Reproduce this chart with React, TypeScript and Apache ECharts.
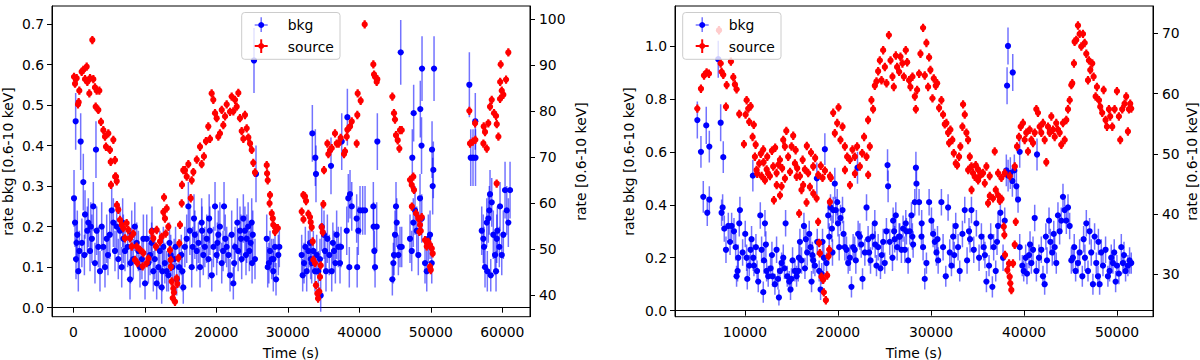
import React, { useEffect, useRef } from "react";
import * as echarts from "echarts";

// ---------- tick labels ----------
const LEFT_X_TICKS = [0, 10000, 20000, 30000, 40000, 50000, 60000];
const LEFT_BKG_TICKS = [0, 0.1, 0.2, 0.3, 0.4, 0.5, 0.6, 0.7];
const LEFT_SRC_TICKS = [40, 50, 60, 70, 80, 90, 100];
const RIGHT_X_TICKS = [10000, 20000, 30000, 40000, 50000];
const RIGHT_BKG_TICKS = [0, 0.2, 0.4, 0.6, 0.8, 1.0];
const RIGHT_SRC_TICKS = [30, 40, 50, 60, 70];

const LEGEND_LABELS = ["bkg", "source"];
const X_LABEL = "Time (s)";
const BKG_LABEL = "rate bkg [0.6-10 keV]";
const SRC_LABEL = "rate [0.6-10 keV]";

// half bin widths (s) and source rate error
const BKG_XERR = 150;
const SRC_XERR_LEFT = 330;
const SRC_XERR_RIGHT = 280;
const SRC_ERR_LEFT = 0.9;
const SRC_ERR_RIGHT = 0.7;

// ---------- left observation: background [time, rate, err] ----------
const LEFT_BKG: number[][] = [
  [100,0.27,0.07],[240,0.21,0.06],[330,0.46,0.07],[380,0.12,0.05],[560,0.18,0.06],[700,0.09,0.05],[840,0.14,0.05],
  [1030,0.41,0.07],[1200,0.16,0.06],[1400,0.31,0.07],[1640,0.23,0.06],[1960,0.19,0.06],[2100,0.21,0.06],[2340,0.14,0.05],
  [2600,0.17,0.06],[2800,0.25,0.06],[3030,0.11,0.05],[3170,0.39,0.07],[3270,0.19,0.06],[3730,0.09,0.05],[3970,0.20,0.06],
  [4200,0.15,0.05],[4430,0.10,0.05],[4670,0.17,0.06],[5100,0.18,0.06],[5370,0.24,0.06],[5600,0.21,0.06],[5830,0.14,0.05],
  [6070,0.20,0.06],[6290,0.12,0.05],[6530,0.19,0.06],[6770,0.10,0.05],[7000,0.17,0.06],[7230,0.14,0.05],[7600,0.15,0.05],
  [7930,0.07,0.05],[8170,0.18,0.06],[8390,0.12,0.05],[8600,0.20,0.06],[8870,0.16,0.05],[9100,0.14,0.05],[9330,0.10,0.05],
  [9600,0.12,0.05],[10030,0.06,0.04],[10270,0.17,0.06],[10500,0.11,0.05],[10730,0.13,0.05],[10950,0.16,0.05],[11190,0.09,0.05],
  [11400,0.12,0.05],[11660,0.06,0.04],[11900,0.10,0.05],[12100,0.14,0.05],[12360,0.05,0.04],[12590,0.15,0.05],[12800,0.11,0.05],
  [13060,0.09,0.05],[13300,0.08,0.04],[13620,0.13,0.05],[13850,0.10,0.05],[14100,0.12,0.05],[14460,0.07,0.04],[14800,0.10,0.05],
  [15100,0.13,0.05],[15380,0.05,0.04],[15600,0.15,0.05],[15860,0.17,0.06],[16090,0.25,0.06],[16300,0.19,0.06],[16560,0.10,0.05],
  [16880,0.22,0.06],[17000,0.18,0.06],[17260,0.14,0.05],[17500,0.16,0.05],[17720,0.10,0.05],[17950,0.21,0.06],[18180,0.13,0.05],
  [18400,0.15,0.05],[18660,0.17,0.06],[18900,0.12,0.05],[19100,0.19,0.06],[19360,0.08,0.04],[19600,0.15,0.05],[19820,0.25,0.06],
  [20050,0.13,0.05],[20280,0.18,0.06],[20500,0.20,0.06],[20760,0.11,0.05],[21080,0.25,0.06],[21250,0.17,0.06],[21450,0.15,0.05],
  [21700,0.13,0.05],[21920,0.08,0.04],[22150,0.18,0.06],[22380,0.06,0.04],[22620,0.15,0.05],[22940,0.21,0.06],[23050,0.14,0.05],
  [23310,0.19,0.06],[23550,0.12,0.05],[23780,0.22,0.06],[24000,0.19,0.06],[24250,0.17,0.06],[24450,0.20,0.06],[24620,0.14,0.05],
  [24800,0.16,0.05],[24950,0.21,0.06],[25100,0.18,0.06],[25270,0.61,0.08],[25410,0.12,0.05],[25550,0.33,0.07],
  [450,0.16,0.05],[1550,0.13,0.05],[2450,0.20,0.06],[3500,0.15,0.05],[4850,0.13,0.05],[6900,0.21,0.06],[8000,0.11,0.05],
  [9800,0.17,0.06],[11000,0.19,0.06],[12450,0.09,0.05],[13450,0.16,0.05],[14300,0.15,0.05],[15250,0.09,0.05],[16700,0.15,0.05],
  [18000,0.19,0.06],[19000,0.22,0.06],[20150,0.16,0.05],[20950,0.14,0.05],[22500,0.11,0.05],[23450,0.17,0.06],[24150,0.13,0.05],
  [25000,0.11,0.05],
  [27050,0.17,0.06],[27190,0.10,0.05],[27350,0.11,0.05],[27510,0.14,0.05],[27750,0.12,0.05],[27970,0.09,0.05],[28000,0.12,0.05],
  [28210,0.15,0.05],[28350,0.07,0.04],[28670,0.13,0.05],[28810,0.15,0.05],
  [31940,0.13,0.05],[32080,0.08,0.04],[32270,0.11,0.05],[32450,0.15,0.05],[32640,0.09,0.05],[32870,0.14,0.05],[33100,0.16,0.06],
  [33200,0.12,0.05],[33340,0.11,0.05],[33430,0.43,0.07],[33570,0.14,0.05],[33800,0.09,0.05],[33850,0.37,0.07],[33940,0.33,0.07],
  [34040,0.13,0.05],[34270,0.09,0.05],[34500,0.12,0.05],[34600,0.03,0.04],[34740,0.20,0.06],[35060,0.18,0.06],[35200,0.14,0.05],
  [35340,0.09,0.05],[35530,0.17,0.06],[35800,0.13,0.05],[36040,0.35,0.07],[36140,0.09,0.05],[36300,0.16,0.05],[36460,0.14,0.05],
  [36650,0.11,0.05],[36830,0.18,0.06],[37060,0.15,0.05],[37300,0.11,0.05],[37440,0.15,0.05],[37540,0.41,0.07],
  [38240,0.19,0.06],[38330,0.47,0.07],[38460,0.27,0.06],[38600,0.10,0.05],[38700,0.28,0.06],[38940,0.25,0.06],[39630,0.22,0.06],
  [39700,0.10,0.05],[39860,0.19,0.06],[40100,0.24,0.06],[40470,0.24,0.06],[40800,0.24,0.06],[41960,0.25,0.06],[42000,0.20,0.06],
  [42100,0.14,0.05],[42200,0.10,0.05],[42430,0.20,0.06],[42520,0.41,0.07],
  [44620,0.07,0.04],[44760,0.11,0.05],[44850,0.13,0.05],[44990,0.18,0.06],[45130,0.25,0.06],[45230,0.21,0.06],[45460,0.13,0.05],
  [45690,0.15,0.05],[45790,0.63,0.08],[45930,0.15,0.05],[47090,0.17,0.06],[47330,0.14,0.05],[47410,0.37,0.07],[47550,0.21,0.06],
  [47600,0.48,0.07],[47790,0.24,0.06],[48030,0.19,0.06],[48250,0.13,0.05],[48490,0.27,0.06],[48530,0.49,0.07],[48700,0.40,0.07],
  [48730,0.22,0.06],[48770,0.59,0.08],[49190,0.11,0.05],[49430,0.09,0.05],[49650,0.17,0.06],[49890,0.18,0.06],[50130,0.11,0.05],
  [50170,0.39,0.07],[50260,0.30,0.07],[50350,0.34,0.07],[50450,0.59,0.08],
  [55390,0.55,0.08],[55580,0.37,0.07],[55900,0.37,0.07],[56220,0.46,0.07],[56250,0.37,0.07],[57120,0.19,0.06],[57340,0.17,0.06],
  [57440,0.15,0.05],[57580,0.10,0.05],[57820,0.21,0.06],[57900,0.09,0.05],[58040,0.22,0.06],[58180,0.24,0.06],[58280,0.28,0.06],
  [58380,0.08,0.04],[58520,0.26,0.06],[58740,0.18,0.06],[58980,0.13,0.05],[59120,0.09,0.05],[59220,0.17,0.06],[59300,0.19,0.06],
  [59580,0.15,0.05],[59680,0.25,0.06],[59920,0.13,0.05],[60140,0.18,0.06],[60380,0.29,0.07],[60620,0.24,0.06],[60840,0.21,0.06],
  [61080,0.29,0.07],
];

// ---------- left observation: source [time, rate] ----------
const LEFT_SRC: number[][] = [
  [100,87.5],[240,86.0],[470,87.2],[660,81.5],[750,82.0],[840,84.5],[1170,88.6],[1400,89.0],[1640,87.0],[1870,89.7],
  [1960,86.4],[2240,83.9],[2340,87.2],[2660,95.5],[2800,87.0],[3030,85.2],[3130,81.0],[3270,84.5],[3500,80.3],[3640,84.5],
  [3870,77.7],[4200,75.9],[4430,74.5],[4570,72.3],[4900,75.2],[5130,71.6],[5230,69.0],[5270,64.0],[5600,73.8],[5830,69.4],
  [5850,65.8],[5970,65.8],[6070,64.8],[6100,59.6],[6290,58.6],[6530,56.4],[6770,55.3],[7000,54.6],[7230,52.4],[7460,55.7],
  [7700,54.2],[7930,52.4],[8170,50.6],[8390,53.4],[8630,47.7],[8870,50.6],[8960,47.0],[9330,49.9],[9700,46.3],[9790,49.2],
  [10270,47.0],[10500,48.0],[10960,53.8],[11190,52.4],[11560,50.6],[11660,54.2],[12130,51.7],[12360,52.7],[12590,58.1],
  [12690,61.3],[12820,56.7],[12920,53.4],[13060,58.9],[13290,54.9],[13520,49.8],[13620,47.7],[13650,46.2],[13760,43.0],
  [13900,39.4],[13990,41.5],[14080,40.6],[14220,38.6],[14460,43.7],[14550,42.5],[14690,48.1],[14830,51.3],[14920,55.3],
  [15160,60.0],[15200,64.0],[15380,67.2],[15620,67.2],[15860,65.8],[16090,68.5],[16420,61.1],[16560,65.0],[16790,66.8],
  [17260,69.5],[17720,72.3],[17950,68.5],[18270,70.2],[18550,73.5],[18880,76.7],[19120,74.0],[19350,83.9],[19580,82.5],
  [19820,79.6],[20050,78.5],[20280,74.5],[20510,75.2],[20760,80.3],[20980,77.0],[21220,78.9],[21450,81.5],[21920,79.9],
  [22150,83.2],[22380,80.0],[22620,82.5],[22850,81.0],[23080,84.0],[23310,78.5],[23550,75.7],[23780,74.0],[24010,79.2],
  [24250,76.3],[24480,74.3],[24720,73.0],[24950,71.6],[25170,68.8],[25410,66.7],
  [27050,68.3],[27100,66.5],[27190,65.0],[27450,60.0],[27510,61.8],[27750,57.8],[27900,56.7],[27970,55.3],[28210,53.8],
  [28350,54.6],[28600,54.6],
  [31940,58.2],[32170,61.8],[32190,56.5],[32400,61.5],[32550,60.5],[32870,57.7],[33100,57.0],[33200,55.9],[33340,54.8],
  [33480,51.7],[33570,47.7],[33800,47.0],[33940,42.2],[34130,40.4],[34230,39.3],[34410,40.8],[34500,44.0],[34600,46.5],
  [34740,54.8],[34880,53.7],[34970,59.8],[35060,67.2],[35530,73.0],[35670,70.7],[35900,71.5],[36140,72.0],[36600,75.2],
  [36840,73.0],[37110,73.0],[37390,74.2],[37860,70.7],[38000,71.3],[38240,74.5],[38330,76.0],[38700,76.7],[38940,77.8],
  [39630,73.0],[39720,79.2],[39770,83.9],[40190,82.3],[40750,98.9],[41960,90.2],[42060,88.0],[42200,87.5],[42430,86.4],
  [42520,87.0],
  [44620,83.2],[44850,79.6],[44990,78.2],[45130,74.8],[45370,73.7],[45600,71.9],[45690,75.9],[45930,75.9],
  [47090,65.1],[47330,64.0],[47350,59.3],[47550,65.8],[47650,62.9],[47930,57.8],[48250,56.7],[48390,53.8],[48490,55.3],
  [48590,54.0],[48730,57.0],[49190,52.0],[49430,50.6],[49650,51.6],[49890,46.2],[49900,50.9],[49990,45.5],[50130,50.2],
  [50260,49.1],
  [55390,80.1],[55480,73.0],[55860,73.4],[56190,77.4],[56230,73.8],[57350,73.0],[57400,76.7],[57580,75.5],[57820,71.9],
  [58040,77.4],[58280,81.0],[58520,82.5],[58840,79.6],[59120,79.0],[59210,64.3],[59220,77.2],[59450,74.5],[59680,82.7],
  [59700,86.4],[59770,90.2],[59920,84.5],[60140,83.6],[60520,86.9],[60840,92.8],
];

// ---------- right observation: background [time, rate, err] ----------
const RIGHT_BKG: number[][] = [
  [4880,0.72,0.07],[5270,0.60,0.06],[5520,0.43,0.06],[5840,0.70,0.07],[5950,0.37,0.05],[6170,0.62,0.06],[6170,0.42,0.05],
  [7130,0.95,0.07],[7390,0.71,0.07],[7490,0.37,0.05],[7600,0.39,0.05],[7670,0.58,0.06],[7780,0.31,0.05],[7960,0.23,0.05],
  [8210,0.32,0.05],[8570,0.32,0.05],[8820,0.30,0.05],[9100,0.13,0.04],[9210,0.15,0.04],[9280,0.20,0.05],[9390,0.33,0.05],
  [9460,0.38,0.05],[9750,0.22,0.05],[10030,0.29,0.05],[10180,0.20,0.05],[10250,0.12,0.04],[10460,0.17,0.04],[10710,0.27,0.05],
  [10850,0.51,0.06],[10890,0.20,0.05],[10970,0.17,0.04],[11180,0.24,0.05],[11430,0.11,0.04],[11650,0.36,0.05],[11790,0.23,0.05],
  [11970,0.07,0.04],[12150,0.33,0.05],[12250,0.25,0.05],[12330,0.15,0.04],[12500,0.13,0.04],[12760,0.16,0.04],[12970,0.13,0.04],
  [13220,0.10,0.04],[13400,0.23,0.05],[13650,0.05,0.03],[13760,0.15,0.04],[13940,0.18,0.04],[14120,0.20,0.05],[14370,0.33,0.05],
  [14550,0.13,0.04],[14760,0.11,0.04],[14900,0.08,0.04],[15120,0.19,0.05],[15370,0.15,0.04],[15550,0.13,0.04],[15730,0.15,0.04],
  [15910,0.26,0.05],[16080,0.19,0.05],[16340,0.32,0.05],[16550,0.27,0.05],[16690,0.22,0.05],[16910,0.29,0.05],[17050,0.24,0.05],
  [17160,0.11,0.04],[17340,0.19,0.05],[17520,0.17,0.04],[17730,0.50,0.06],[17770,0.26,0.05],[17980,0.15,0.04],[18130,0.08,0.04],
  [18340,0.26,0.05],[18480,0.20,0.05],[18590,0.61,0.06],[18770,0.18,0.04],[18950,0.36,0.05],[19060,0.28,0.05],[19200,0.39,0.05],
  [19410,0.22,0.05],[19490,0.38,0.05],[19660,0.48,0.06],[19770,0.38,0.05],[19920,0.41,0.05],[20130,0.24,0.05],[20270,0.35,0.05],
  [20490,0.38,0.05],[20740,0.24,0.05],[20920,0.23,0.05],[21100,0.18,0.04],[21280,0.20,0.05],[21450,0.09,0.04],[21630,0.24,0.05],
  [21920,0.19,0.05],[22100,0.54,0.06],[22170,0.29,0.05],[22350,0.28,0.05],[22640,0.12,0.04],[22890,0.22,0.05],[23070,0.39,0.05],
  [23240,0.27,0.05],[23500,0.19,0.05],[23710,0.28,0.05],[23960,0.33,0.05],[24140,0.17,0.04],[24320,0.24,0.05],[24570,0.16,0.04],
  [24860,0.26,0.05],[25030,0.18,0.04],[25210,0.30,0.05],[25330,0.55,0.06],[25390,0.47,0.06],[25570,0.26,0.05],[25860,0.20,0.05],
  [25930,0.34,0.05],[26040,0.30,0.05],[26220,0.36,0.05],[26360,0.24,0.05],[26570,0.28,0.05],[26650,0.28,0.05],[26820,0.23,0.05],
  [27000,0.31,0.05],[27190,0.23,0.05],[27290,0.33,0.05],[27360,0.30,0.05],[27540,0.19,0.05],[27720,0.30,0.05],[27900,0.36,0.05],
  [28000,0.28,0.05],[28080,0.25,0.05],[28260,0.41,0.05],[28380,0.54,0.06],[28440,0.48,0.06],
  [28720,0.41,0.05],[28980,0.28,0.05],[29150,0.24,0.05],[29330,0.12,0.04],[29510,0.18,0.04],[29800,0.41,0.05],[30050,0.34,0.05],
  [30230,0.29,0.05],[30410,0.26,0.05],[30590,0.22,0.05],[30770,0.19,0.05],[31120,0.41,0.05],[31300,0.24,0.05],[31590,0.13,0.04],
  [31840,0.39,0.05],[32020,0.22,0.05],[32200,0.17,0.04],[32380,0.28,0.05],[32660,0.32,0.05],[32910,0.24,0.05],[33090,0.15,0.04],
  [33380,0.29,0.05],[33630,0.38,0.05],[33880,0.19,0.05],[34090,0.30,0.05],[34350,0.38,0.05],[34600,0.23,0.05],[34880,0.33,0.05],
  [35170,0.20,0.05],[35420,0.28,0.05],[35670,0.24,0.05],[35960,0.11,0.04],[36240,0.17,0.04],[36420,0.28,0.05],[36600,0.09,0.04],
  [36740,0.24,0.05],[36960,0.15,0.04],[37210,0.32,0.05],[37460,0.37,0.05],[37750,0.20,0.05],[37930,0.34,0.05],[38100,0.53,0.06],
  [38180,0.85,0.07],[38280,1.00,0.07],[38290,0.51,0.06],[38530,0.52,0.06],[38750,0.49,0.06],[38790,0.90,0.07],[38960,0.53,0.06],
  [39180,0.47,0.06],[39360,0.42,0.05],[39540,0.60,0.06],[39540,0.24,0.05],[39820,0.17,0.04],[39970,0.15,0.04],[40180,0.20,0.05],
  [40320,0.14,0.04],[40540,0.21,0.05],[40790,0.18,0.04],[40970,0.23,0.05],[41150,0.35,0.05],[41330,0.15,0.04],[41400,0.59,0.06],
  [41610,0.20,0.05],[41860,0.23,0.05],[42040,0.13,0.04],[42220,0.10,0.04],[42470,0.19,0.05],[42690,0.34,0.05],[42830,0.26,0.05],
  [43040,0.22,0.05],[43300,0.24,0.05],[43470,0.18,0.04],[43650,0.36,0.05],[43830,0.30,0.05],[44010,0.34,0.05],[44190,0.43,0.05],
  [44370,0.38,0.05],[44550,0.34,0.05],[44730,0.39,0.05],[44910,0.32,0.05],[45090,0.19,0.05],[45260,0.20,0.05],[45550,0.15,0.04],
  [45800,0.18,0.04],[45980,0.22,0.05],[46270,0.13,0.04],[46410,0.27,0.05],[46700,0.33,0.05],[46880,0.15,0.04],[47050,0.30,0.05],
  [47230,0.22,0.05],[47410,0.10,0.04],[47590,0.28,0.05],[47770,0.18,0.04],[47950,0.13,0.04],[48130,0.10,0.04],[48310,0.22,0.05],
  [48490,0.17,0.04],[48770,0.23,0.05],[49020,0.13,0.04],[49200,0.15,0.04],[49380,0.20,0.05],[49560,0.18,0.04],[49850,0.11,0.04],
  [49990,0.17,0.04],[50200,0.14,0.04],[50460,0.24,0.05],[50630,0.18,0.04],[50920,0.15,0.04],[51170,0.17,0.04],[51350,0.19,0.05],
  [51530,0.18,0.04],
  [8400,0.26,0.05],[9000,0.24,0.05],[10600,0.23,0.05],[11300,0.15,0.04],[12050,0.19,0.05],[12900,0.21,0.05],[13550,0.12,0.04],
  [14250,0.16,0.04],[15000,0.12,0.04],[15800,0.20,0.05],[16450,0.16,0.04],[17250,0.21,0.05],[18250,0.14,0.04],[19350,0.31,0.05],
  [20000,0.33,0.05],[20600,0.29,0.05],[21800,0.23,0.05],[22500,0.25,0.05],[23350,0.22,0.05],[24000,0.25,0.05],[24700,0.21,0.05],
  [26100,0.27,0.05],[29000,0.33,0.05],[30700,0.27,0.05],[32500,0.21,0.05],[34200,0.27,0.05],[35800,0.21,0.05],[37100,0.26,0.05],
  [40650,0.25,0.05],[42350,0.28,0.05],[43200,0.29,0.05],[45400,0.24,0.05],[46550,0.20,0.05],[48000,0.26,0.05],[49700,0.22,0.05],
  [50750,0.21,0.05],
];

// ---------- right observation: source [time, rate] ----------
const RIGHT_SRC: number[][] = [
  [4880,57.5],[5270,60.8],[5600,63.0],[5880,63.5],[6130,63.3],[7210,70.5],[7390,65.0],[7490,63.6],[7670,63.1],[7960,57.8],
  [8030,61.4],[8490,65.3],[8750,62.7],[8920,61.5],[9100,60.7],[9390,56.6],[9890,51.6],[10070,56.5],[10180,58.9],[10360,57.5],
  [10460,55.3],[10610,57.9],[10820,52.8],[11070,49.5],[11250,47.3],[11320,46.7],[11540,48.4],[11790,46.3],[11970,50.7],
  [12150,45.6],[12330,47.4],[12500,46.7],[12680,46.3],[13040,47.9],[13110,42.3],[13400,46.8],[13410,44.8],[13760,49.0],
  [13770,43.1],[13940,44.6],[14120,52.3],[14290,51.2],[14300,45.9],[14650,49.5],[15010,51.2],[15190,53.0],[15370,48.4],
  [15550,46.2],[15620,47.6],[15830,40.1],[15910,46.3],[16080,44.0],[16260,44.8],[16440,47.4],[16620,41.9],[16800,46.8],
  [16980,44.5],[17340,47.9],[17350,43.4],[17700,42.6],[17870,38.7],[17880,46.5],[17980,35.2],[18050,33.5],[18230,29.6],
  [18340,46.0],[18410,29.1],[18480,27.0],[18700,25.7],[18840,29.8],[18980,33.0],[19060,34.1],[19130,42.0],[19135,46.3],
  [19230,46.0],[19490,56.8],[19660,53.4],[19920,55.1],[20060,57.7],[20270,52.3],[20490,54.5],[20740,51.2],[20750,47.3],
  [20990,49.5],[21280,49.0],[21290,44.8],[21560,50.7],[21810,49.5],[21820,46.7],[22060,51.2],[22350,47.9],[22600,50.1],
  [22810,52.8],[23070,49.5],[23240,55.6],[23250,46.5],[23420,51.2],[23600,58.9],[23780,57.4],[23960,61.3],[24140,62.0],
  [24320,63.7],
  [11150,51.5],[11700,50.0],[12400,49.5],[12900,50.5],[13600,48.2],[14450,53.8],[14850,47.0],[15450,50.6],[16200,49.0],
  [16650,51.3],[17100,50.2],[17550,49.3],[18150,48.0],[18600,47.2],[10950,54.8],[12000,48.6],[13250,51.0],[14000,47.6],
  [24500,65.5],[24680,62.2],[24860,67.2],[25040,64.4],[25220,61.7],[25470,69.7],[25650,65.5],[25860,62.8],[26000,61.1],
  [26220,66.3],[26360,64.4],[26580,63.6],[26720,66.1],[26930,65.0],[27080,62.8],[27290,67.2],[27440,65.2],[27650,62.2],
  [27790,61.1],[28010,62.8],[28260,59.5],[28370,57.4],[28510,60.6],[28720,63.3],[28870,66.6],[29150,70.9],[29330,63.0],
  [29510,68.4],[29690,61.1],[29800,66.0],[29940,63.9],[30160,59.2],[30300,62.5],[30510,61.3],[30660,61.7],[30870,57.6],
  [31120,58.9],[31300,56.5],[31480,54.9],[31660,55.1],[31840,53.5],[31950,51.8],[32090,54.0],[32300,52.3],[32450,50.1],
  [32660,48.4],[32810,48.1],[33020,49.5],[33160,51.2],[33380,54.5],[33450,58.2],[33630,56.5],[33810,53.5],[33990,52.3],
  [34000,47.3],[34170,49.5],[34350,47.9],[34360,44.0],[34520,46.8],[34700,46.2],[34810,48.1],[35060,47.4],[35070,45.6],
  [35240,46.3],[35420,46.7],[35600,46.8],[35780,45.1],[35960,47.9],[36140,41.8],[36310,46.3],[36320,43.0],[36670,42.6],
  [36850,50.4],[36960,44.0],[37210,46.8],[37220,43.1],[37390,42.2],[37570,46.0],[37580,42.5],[37820,37.9],[37890,36.5],
  [37925,46.8],[37960,33.2],[38210,30.7],[38390,31.8],[38460,29.6],[38470,46.3],[38530,28.5],[38640,27.4],[38820,31.8],
  [39000,34.9],[39010,47.9],[39110,38.7],[39250,51.2],[39460,52.8],[39640,54.5],[39890,55.1],[40070,52.3],[40250,53.5],
  [40430,50.4],[40610,54.0],[40790,52.3],[40970,51.8],[41150,53.5],[41330,57.4],[41500,56.8],[41680,54.5],[41860,53.5],
  [42040,55.1],[42220,52.3],[42400,48.6],[42580,54.5],[42760,53.5],[42940,56.2],[43120,54.0],[43300,52.8],[43470,55.1],
  [43650,54.0],[43830,53.5],[44010,51.5],[44190,55.1],[44370,52.3],[44550,55.6],[44730,57.4],[44910,58.9],[45090,61.4],
  [45190,61.7],[45370,65.0],[45440,68.6],[45620,68.9],[45800,71.3],[45980,69.9],[46160,67.8],[46340,69.9],[46520,68.4],
  [46700,66.6],[46880,62.2],[46980,65.5],[47130,63.9],[47340,65.0],[47480,62.8],[47700,59.5],[47840,61.1],[48060,58.9],
  [48200,57.8],[48410,56.8],[48560,60.6],[48770,55.6],[48920,54.5],[49130,57.4],[49270,56.2],[49490,54.5],[49740,57.4],
  [49990,60.4],[50200,56.2],[50350,52.3],[50560,57.4],[50810,58.3],[50990,59.5],[51170,53.7],[51280,57.4],[51420,58.3],
  [51530,57.5],
];

// ---------- styling ----------
const FONT_FAMILY = "DejaVu Sans";
const FS = 13.9;
const BLUE = "#0000ff";
const BLUE_BAR = "rgba(0,0,255,0.55)";
const RED = "#ff0000";
const MARKER = 6.2;

const PANELS = [
  { left: 52, xMin: -2980, xMax: 63870, bkgMin: -0.0222, bkgMax: 0.7444, srcMin: 35.35, srcMax: 102.9,
    xTicks: LEFT_X_TICKS, bkgTicks: LEFT_BKG_TICKS, srcTicks: LEFT_SRC_TICKS,
    bkg: LEFT_BKG, src: LEFT_SRC, srcErr: SRC_ERR_LEFT, srcXerr: SRC_XERR_LEFT,
    legendX: 241.7, bkgLabelX: 7.5, srcLabelX: 581 },
  { left: 675, xMin: 2480, xMax: 53868, bkgMin: -0.0227, bkgMax: 1.151, srcMin: 22.96, srcMax: 74.53,
    xTicks: RIGHT_X_TICKS, bkgTicks: RIGHT_BKG_TICKS, srcTicks: RIGHT_SRC_TICKS,
    bkg: RIGHT_BKG, src: RIGHT_SRC, srcErr: SRC_ERR_RIGHT, srcXerr: SRC_XERR_RIGHT,
    legendX: 682.7, bkgLabelX: 629, srcLabelX: 1192 },
];
const GRID_TOP = 6;
const GRID_W = 478;
const GRID_H = 310.7;

function errorBars(color: string, lw: number) {
  return (params: any, api: any) => {
    const t = api.value(0), v = api.value(1), e = api.value(2), xe = api.value(3);
    const top = api.coord([t, v + e]);
    const bot = api.coord([t, v - e]);
    const l = api.coord([t - xe, v]);
    const r = api.coord([t + xe, v]);
    const style = { stroke: color, lineWidth: lw, fill: null };
    return {
      type: "group",
      children: [
        { type: "line", shape: { x1: top[0], y1: top[1], x2: bot[0], y2: bot[1] }, style },
        { type: "line", shape: { x1: l[0], y1: l[1], x2: r[0], y2: r[1] }, style },
      ],
    };
  };
}

function legendGraphics(x0: number) {
  const mx = x0 + 19.5;
  const tx = x0 + 46;
  const font = `${FS}px "${FONT_FAMILY}"`;
  return [
    { type: "rect", shape: { x: x0, y: 12.5, width: 98.3, height: 46.8, r: 3 },
      style: { fill: "rgba(255,255,255,0.8)", stroke: "#cccccc", lineWidth: 1 }, z: 100 },
    { type: "line", shape: { x1: mx, y1: 17.3, x2: mx, y2: 32 }, style: { stroke: BLUE_BAR, lineWidth: 1.5 }, z: 101 },
    { type: "line", shape: { x1: mx - 6.5, y1: 25, x2: mx + 6.5, y2: 25 }, style: { stroke: BLUE_BAR, lineWidth: 1.5 }, z: 101 },
    { type: "circle", shape: { cx: mx, cy: 25, r: 3 }, style: { fill: BLUE }, z: 102 },
    { type: "line", shape: { x1: mx, y1: 39.3, x2: mx, y2: 53 }, style: { stroke: RED, lineWidth: 2 }, z: 101 },
    { type: "line", shape: { x1: mx - 6.5, y1: 46, x2: mx + 6.5, y2: 46 }, style: { stroke: RED, lineWidth: 2 }, z: 101 },
    { type: "circle", shape: { cx: mx, cy: 46, r: 3 }, style: { fill: RED }, z: 102 },
    { type: "text", x: tx, y: 25, style: { text: LEGEND_LABELS[0], font, fill: "#000", align: "left", verticalAlign: "middle" }, z: 102 },
    { type: "text", x: tx, y: 46.5, style: { text: LEGEND_LABELS[1], font, fill: "#000", align: "left", verticalAlign: "middle" }, z: 102 },
  ];
}

export default function App() {
  const ref = useRef<HTMLDivElement>(null);
  useEffect(() => {
    if (!ref.current) return;
    const chart = echarts.init(ref.current, null, { renderer: "svg" });
    const labelStyle = { color: "#000", fontSize: FS, fontFamily: FONT_FAMILY };
    const grid: any[] = [];
    const xAxis: any[] = [];
    const yAxis: any[] = [];
    const series: any[] = [];
    const graphic: any[] = [];
    const font = `${FS}px "${FONT_FAMILY}"`;

    PANELS.forEach((p, i) => {
      grid.push({ left: p.left, top: GRID_TOP, width: GRID_W, height: GRID_H, show: true,
        borderColor: "#000", borderWidth: 1, backgroundColor: "transparent", containLabel: false });
      xAxis.push({
        type: "value", gridIndex: i, min: p.xMin, max: p.xMax,
        axisLine: { show: true, lineStyle: { color: "#000", width: 1 } },
        splitLine: { show: false },
        axisTick: { show: true, length: 5, customValues: p.xTicks, lineStyle: { color: "#000", width: 1 } },
        axisLabel: { ...labelStyle, margin: 8, customValues: p.xTicks, formatter: (v: number) => String(Math.round(v)) },
      });
      yAxis.push({
        type: "value", gridIndex: i, position: "left", min: p.bkgMin, max: p.bkgMax,
        axisLine: { show: true, onZero: false, lineStyle: { color: "#000", width: 1 } },
        splitLine: { show: false },
        axisTick: { show: true, length: 5, customValues: p.bkgTicks, lineStyle: { color: "#000", width: 1 } },
        axisLabel: { ...labelStyle, margin: 8, customValues: p.bkgTicks, formatter: (v: number) => v.toFixed(1) },
      });
      yAxis.push({
        type: "value", gridIndex: i, position: "right", min: p.srcMin, max: p.srcMax,
        axisLine: { show: true, onZero: false, lineStyle: { color: "#000", width: 1 } },
        splitLine: { show: false },
        axisTick: { show: true, length: 5, customValues: p.srcTicks, lineStyle: { color: "#000", width: 1 } },
        axisLabel: { ...labelStyle, margin: 9, customValues: p.srcTicks, formatter: (v: number) => String(Math.round(v)) },
      });
      const yb = i * 2, ys = i * 2 + 1;
      series.push({
        type: "custom", name: LEGEND_LABELS[0], xAxisIndex: i, yAxisIndex: yb, clip: true, silent: true,
        renderItem: errorBars(BLUE_BAR, 1.5),
        encode: { x: 0, y: 1 },
        data: p.bkg.map((d) => [d[0], d[1], d[2], BKG_XERR]),
        z: 2,
      });
      series.push({
        type: "scatter", name: LEGEND_LABELS[0], xAxisIndex: i, yAxisIndex: yb, clip: true, silent: true,
        symbol: "circle", symbolSize: MARKER, itemStyle: { color: BLUE, opacity: 1 },
        data: p.bkg.map((d) => [d[0], d[1]]), z: 3,
      });
      series.push({
        type: "custom", name: LEGEND_LABELS[1], xAxisIndex: i, yAxisIndex: ys, clip: true, silent: true,
        renderItem: errorBars(RED, 2.2),
        encode: { x: 0, y: 1 },
        data: p.src.map((d) => [d[0], d[1], p.srcErr, p.srcXerr]),
        z: 4,
      });
      series.push({
        type: "scatter", name: LEGEND_LABELS[1], xAxisIndex: i, yAxisIndex: ys, clip: true, silent: true,
        symbol: "circle", symbolSize: MARKER, itemStyle: { color: RED, opacity: 1 },
        data: p.src.map((d) => [d[0], d[1]]), z: 5,
      });
      graphic.push(...legendGraphics(p.legendX));
      graphic.push({ type: "text", x: p.left + GRID_W / 2, y: 352.5,
        style: { text: X_LABEL, font, fill: "#000", align: "center", verticalAlign: "middle" } });
      graphic.push({ type: "text", x: p.bkgLabelX, y: 161.5, rotation: Math.PI / 2,
        style: { text: BKG_LABEL, font, fill: "#000", align: "center", verticalAlign: "middle" } });
      graphic.push({ type: "text", x: p.srcLabelX, y: 161.5, rotation: Math.PI / 2,
        style: { text: SRC_LABEL, font, fill: "#000", align: "center", verticalAlign: "middle" } });
    });

    chart.setOption({
      animation: false,
      backgroundColor: "#fff",
      grid, xAxis, yAxis, series, graphic,
    });
    return () => chart.dispose();
  }, []);
  return (
    <div
      ref={ref}
      style={{ position: "fixed", left: 0, top: 0, width: 1200, height: 360 }}
    />
  );
}
